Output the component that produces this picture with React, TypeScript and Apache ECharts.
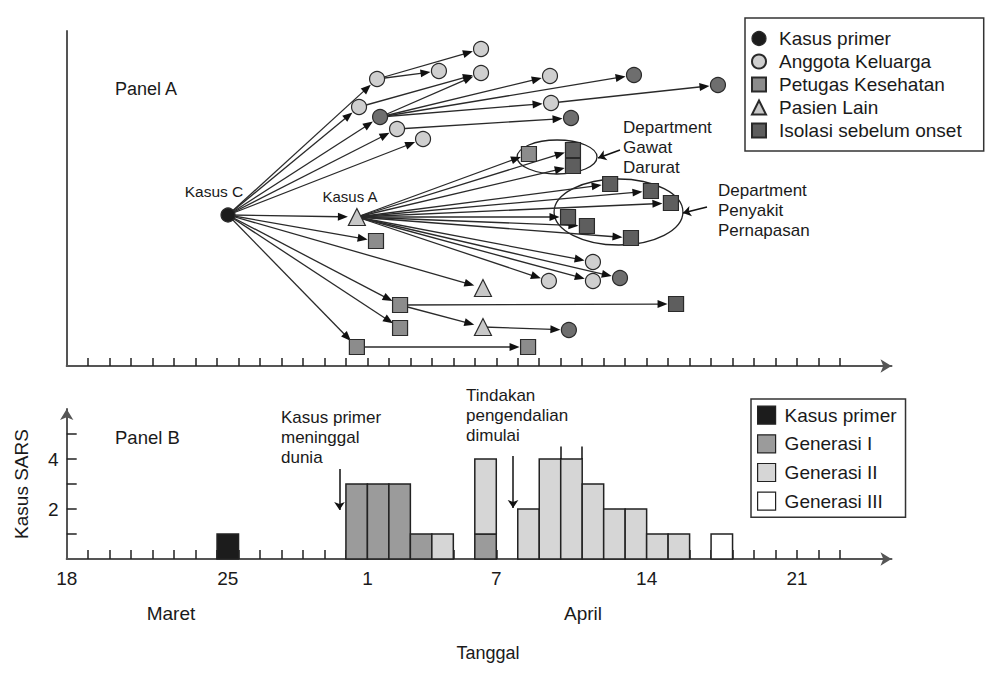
import { useEffect, useRef } from 'react';
import * as echarts from 'echarts';

// ---------- Panel A: cases [id, onset day (days after 18 March), vertical slot, group] ----------
const casesA: [string, number, number, string][] = [
  ['C', 7.51, 151, 'primer'],
  ['k1', 14.45, 287, 'keluarga'],
  ['k2', 17.33, 295, 'keluarga'],
  ['k3', 19.29, 317, 'keluarga'],
  ['k4', 19.29, 293, 'keluarga'],
  ['k5', 13.61, 259, 'keluarga'],
  ['kd6', 14.59, 249, 'keluargaIso'],
  ['k7', 15.38, 237, 'keluarga'],
  ['k8', 16.59, 227, 'keluarga'],
  ['k9', 22.5, 290, 'keluarga'],
  ['kd10', 26.41, 291, 'keluargaIso'],
  ['kd11', 30.32, 281, 'keluargaIso'],
  ['k12', 22.55, 263, 'keluarga'],
  ['kd13', 23.48, 248, 'keluargaIso'],
  ['A', 13.51, 149, 'pasien'],
  ['s1', 14.4, 125, 'petugas'],
  ['t1', 19.38, 78, 'pasien'],
  ['s2', 15.52, 61, 'petugas'],
  ['s3', 15.52, 38, 'petugas'],
  ['t2', 19.38, 39, 'pasien'],
  ['s4', 13.51, 19, 'petugas'],
  ['s5', 21.48, 19, 'petugas'],
  ['kd14', 23.38, 36, 'keluargaIso'],
  ['i1', 28.37, 62, 'isolasi'],
  ['p1', 21.52, 212, 'petugas'],
  ['e1', 23.57, 216, 'isolasi'],
  ['e2', 23.57, 200, 'isolasi'],
  ['r1', 25.3, 182, 'isolasi'],
  ['r2', 27.2, 175, 'isolasi'],
  ['r3', 28.13, 163, 'isolasi'],
  ['r4', 23.34, 149, 'isolasi'],
  ['r5', 24.22, 140, 'isolasi'],
  ['r6', 26.27, 128, 'isolasi'],
  ['k15', 24.5, 104, 'keluarga'],
  ['k16', 22.45, 85, 'keluarga'],
  ['k17', 24.5, 85, 'keluarga'],
  ['kd18', 25.76, 88, 'keluargaIso'],
];

// transmission links [source, target]
const transmissions: [string, string][] = [
  ['C', 'k1'], ['C', 'k5'], ['C', 'kd6'], ['C', 'k7'], ['C', 'k8'], ['C', 'A'],
  ['C', 's1'], ['C', 't1'], ['C', 's2'], ['C', 's3'], ['C', 's4'],
  ['k1', 'k2'], ['k1', 'k3'], ['k5', 'k4'], ['kd6', 'k4'], ['kd6', 'k9'],
  ['kd6', 'kd10'], ['kd6', 'k12'], ['k12', 'kd11'], ['k7', 'kd13'],
  ['A', 'p1'], ['A', 'e1'], ['A', 'e2'], ['A', 'r1'], ['A', 'r2'], ['A', 'r3'],
  ['A', 'r4'], ['A', 'r5'], ['A', 'r6'], ['A', 'k15'], ['A', 'k16'], ['A', 'k17'], ['A', 'kd18'],
  ['s2', 'i1'], ['s2', 't2'], ['t2', 'kd14'], ['s4', 's5'],
];

// clusters circled in Panel A [centre day, centre slot, half-width (days), half-height (slots)]
const clusterGawatDarurat = [22.83, 209, 1.86, 17];
const clusterPernapasan = [25.69, 154, 3.0, 33];

// ---------- Panel B: SARS cases by onset date ----------
const histDays = [7, 13, 14, 15, 16, 17, 19, 21, 22, 23, 24, 25, 26, 27, 28, 30]; // days after 18 March
const kasusPrimer = [1, 0, 0, 0, 0, 0, 0, 0, 0, 0, 0, 0, 0, 0, 0, 0];
const generasiI = [0, 3, 3, 3, 1, 0, 1, 0, 0, 0, 0, 0, 0, 0, 0, 0];
const generasiII = [0, 0, 0, 0, 0, 1, 3, 2, 4, 4, 3, 2, 2, 1, 1, 0];
const generasiIII = [0, 0, 0, 0, 0, 0, 0, 0, 0, 0, 0, 0, 0, 0, 0, 1];

const tickDays = [0, 7.5, 14, 20, 27, 34];
const tickLabels = ['18', '25', '1', '7', '14', '21'];
const dayTicks = Array.from({ length: 36 }, (_, k) => k + 1);

const FONT = "'Liberation Sans', Arial, sans-serif";
const INK = '#1a1a1a';

const groupStyle: Record<string, { name: string; symbol: string; size: number; color: string }> = {
  primer: { name: 'Kasus primer', symbol: 'circle', size: 14, color: '#1c1c1c' },
  keluarga: { name: 'Anggota Keluarga', symbol: 'circle', size: 15, color: '#cfcfcf' },
  keluargaIso: { name: 'Anggota Keluarga (isolasi)', symbol: 'circle', size: 15, color: '#6e6e6e' },
  petugas: { name: 'Petugas Kesehatan', symbol: 'rect', size: 15, color: '#8c8c8c' },
  pasien: { name: 'Pasien Lain', symbol: 'triangle', size: 17, color: '#c8c8c8' },
  isolasi: { name: 'Isolasi sebelum onset', symbol: 'rect', size: 15, color: '#5e5e5e' },
};

const barColors = ['#1c1c1c', '#9b9b9b', '#d6d6d6', '#ffffff'];

export default function App() {
  const ref = useRef<HTMLDivElement>(null);

  useEffect(() => {
    if (!ref.current) return;
    const chart = echarts.init(ref.current, null, { renderer: 'svg' });

    const byId: Record<string, [string, number, number, string]> = {};
    casesA.forEach((c) => (byId[c[0]] = c));
    const edgeData = transmissions.map(([s, t]) => {
      const a = byId[s];
      const b = byId[t];
      const gap = b[3] === 'pasien' ? 9 : 8.5;
      return [a[1], a[2], b[1], b[2], gap];
    });

    const nodeSeries = Object.keys(groupStyle).map((g) => {
      const st = groupStyle[g];
      return {
        type: 'scatter',
        name: st.name,
        xAxisIndex: 0,
        yAxisIndex: 0,
        symbol: st.symbol,
        symbolSize: st.size,
        z: 5,
        itemStyle: { color: st.color, borderColor: '#2a2a2a', borderWidth: 1.2, opacity: 1 },
        emphasis: { disabled: true },
        data: casesA.filter((c) => c[3] === g).map((c) => [c[1], c[2]]),
      };
    });

    // stacked histogram: each rect is [day, lower, upper]
    const layers = [kasusPrimer, generasiI, generasiII, generasiIII];
    const names = ['Kasus primer', 'Generasi I', 'Generasi II', 'Generasi III'];
    const base = histDays.map(() => 0);
    const stacked = layers.map((vals) =>
      histDays
        .map((d, k) => {
          const lo = base[k];
          base[k] += vals[k];
          return vals[k] > 0 ? [d, lo, lo + vals[k]] : null;
        })
        .filter((x) => x !== null)
    );

    const solidLine = { type: 'solid', color: '#111', width: 1.5 };

    const barSeries = layers.map((_, li) => ({
      type: 'custom',
      name: names[li],
      xAxisIndex: 1,
      yAxisIndex: 1,
      z: 3,
      encode: { x: 0, y: [1, 2] },
      itemStyle: { color: barColors[li], borderColor: '#222', borderWidth: 1.5 },
      emphasis: { disabled: true },
      data: stacked[li],
      renderItem: (_p: any, api: any) => {
        const p0 = api.coord([api.value(0), api.value(1)]);
        const p1 = api.coord([api.value(0) + 1, api.value(2)]);
        return {
          type: 'rect',
          shape: { x: p0[0], y: p1[1], width: p1[0] - p0[0], height: p0[1] - p1[1] },
          style: { fill: barColors[li], stroke: '#222', lineWidth: 1.5 },
        };
      },
      markLine:
        li === 0
          ? {
              silent: true, animation: false, label: { show: false },
              symbol: ['none', 'arrow'], symbolSize: 8, lineStyle: solidLine,
              data: [
                [{ coord: [12.7, 3.6] }, { coord: [12.7, 1.96] }],
                [{ coord: [20.78, 4.12] }, { coord: [20.78, 2.04] }],
              ],
            }
          : li === 2
          ? {
              silent: true, animation: false, label: { show: false },
              symbol: ['none', 'none'], lineStyle: solidLine,
              data: [
                [{ coord: [23, 4] }, { coord: [23, 4.5] }],
                [{ coord: [24, 4] }, { coord: [24, 4.5] }],
              ],
            }
          : undefined,
    }));

    const option: any = {
      animation: false,
      backgroundColor: '#ffffff',
      textStyle: { fontFamily: FONT, color: INK },
      grid: [
        { left: 66.7, top: 31, width: 824.8, height: 335 },
        { left: 66.7, top: 409, width: 824.8, height: 150 },
      ],
      xAxis: [
        {
          type: 'value', gridIndex: 0, min: 0, max: 38.4,
          axisLine: { show: true, symbol: ['none', 'arrow'], symbolSize: [10, 11], lineStyle: { color: '#555', width: 2 } },
          axisTick: { show: true, inside: true, length: 8, customValues: dayTicks, lineStyle: { color: '#222', width: 1.5 } },
          axisLabel: { show: false },
          splitLine: { show: false },
        },
        {
          type: 'value', gridIndex: 1, min: 0, max: 38.4,
          axisLine: { show: true, symbol: ['none', 'arrow'], symbolSize: [10, 11], lineStyle: { color: '#555', width: 2 } },
          axisTick: { show: true, inside: true, length: 9, customValues: dayTicks, lineStyle: { color: '#222', width: 1.5 } },
          axisLabel: {
            show: true, customValues: tickDays, fontSize: 19, color: INK, margin: 10, fontFamily: FONT,
            formatter: (v: number) => tickLabels[tickDays.indexOf(v)] ?? '',
          },
          splitLine: { show: false },
        },
      ],
      yAxis: [
        {
          type: 'value', gridIndex: 0, min: 0, max: 335,
          axisLine: { show: true, lineStyle: { color: '#555', width: 2 } },
          axisTick: { show: false }, axisLabel: { show: false }, splitLine: { show: false },
        },
        {
          type: 'value', gridIndex: 1, min: 0, max: 6, interval: 1,
          name: 'Kasus SARS', nameLocation: 'middle', nameRotate: 90, nameGap: 36,
          nameTextStyle: { fontSize: 19, color: INK, fontFamily: FONT },
          axisLine: { show: true, symbol: ['none', 'arrow'], symbolSize: [10, 11], lineStyle: { color: '#555', width: 2 } },
          axisTick: { show: true, inside: true, length: 10, customValues: [1, 2, 3, 4, 5], lineStyle: { color: '#222', width: 1.5 } },
          axisLabel: { show: true, customValues: [2, 4], fontSize: 19, color: INK, margin: 8, fontFamily: FONT },
          splitLine: { show: false },
        },
      ],
      legend: [
        {
          orient: 'vertical', left: 745, top: 18,
          padding: [11, 22, 11, 6], itemGap: 4, itemWidth: 14, itemHeight: 14,
          borderColor: '#333', borderWidth: 1.5, backgroundColor: '#fff',
          selectedMode: false,
          textStyle: { fontSize: 19, lineHeight: 18, color: INK, fontFamily: FONT, padding: [0, 0, 0, 8] },
          data: [
            { name: 'Kasus primer', icon: 'circle', itemStyle: { color: '#1c1c1c', borderColor: '#2a2a2a', borderWidth: 1.2 } },
            { name: 'Anggota Keluarga', icon: 'circle' },
            { name: 'Petugas Kesehatan', icon: 'rect' },
            { name: 'Pasien Lain', icon: 'triangle' },
            { name: 'Isolasi sebelum onset', icon: 'rect' },
          ],
        },
        {
          orient: 'vertical', left: 751, top: 399,
          padding: [6.5, 9, 6.5, 6], itemGap: 9.5, itemWidth: 18, itemHeight: 18,
          borderColor: '#333', borderWidth: 1.5, backgroundColor: '#fff',
          selectedMode: false,
          textStyle: { fontSize: 19, lineHeight: 19, color: INK, fontFamily: FONT, padding: [0, 0, 0, 4] },
          data: names.map((n, i) => ({
            name: n,
            icon: 'rect',
            itemStyle: { color: barColors[i], borderColor: '#222', borderWidth: 1.2 },
          })),
        },
      ],
      series: [
        {
          type: 'custom',
          name: 'klaster',
          xAxisIndex: 0, yAxisIndex: 0,
          z: 2, silent: true, clip: false,
          encode: { x: 0, y: 1 },
          data: [clusterGawatDarurat, clusterPernapasan],
          renderItem: (_p: any, api: any) => {
            const c = api.coord([api.value(0), api.value(1)]);
            const s = api.size([api.value(2), api.value(3)]);
            return {
              type: 'ellipse',
              shape: { cx: c[0], cy: c[1], rx: s[0], ry: s[1] },
              style: { fill: 'none', stroke: '#222', lineWidth: 1.3 },
            };
          },
          markLine: {
            silent: true, animation: false, label: { show: false },
            symbol: ['none', 'arrow'], symbolSize: 8,
            lineStyle: solidLine,
            data: [
              [{ coord: [25.76, 216] }, { coord: [24.74, 208] }],
              [{ coord: [29.81, 159] }, { coord: [28.69, 153] }],
            ],
          },
        },
        {
          type: 'custom',
          name: 'transmisi',
          xAxisIndex: 0, yAxisIndex: 0,
          z: 3, silent: true, clip: false,
          encode: { x: [0, 2], y: [1, 3] },
          data: edgeData,
          renderItem: (_p: any, api: any) => {
            const p1 = api.coord([api.value(0), api.value(1)]);
            const p2 = api.coord([api.value(2), api.value(3)]);
            const gap = api.value(4);
            const dx = p2[0] - p1[0];
            const dy = p2[1] - p1[1];
            const len = Math.hypot(dx, dy) || 1;
            const ux = dx / len;
            const uy = dy / len;
            const tip = [p2[0] - ux * gap, p2[1] - uy * gap];
            const hl = 10;
            const hw = 4;
            const b = [tip[0] - ux * hl, tip[1] - uy * hl];
            const l = [b[0] - uy * hw, b[1] + ux * hw];
            const r = [b[0] + uy * hw, b[1] - ux * hw];
            return {
              type: 'group',
              children: [
                { type: 'line', shape: { x1: p1[0], y1: p1[1], x2: b[0] + ux * 2, y2: b[1] + uy * 2 }, style: { stroke: '#2a2a2a', lineWidth: 1.3 } },
                { type: 'polygon', shape: { points: [tip, l, r] }, style: { fill: '#111' } },
              ],
            };
          },
        },
        ...nodeSeries,
        ...barSeries,
      ],
      graphic: [
        { type: 'text', x: 115, y: 89, style: { text: 'Panel A', fontSize: 18, fontFamily: FONT, fill: INK, verticalAlign: 'middle' } },
        { type: 'text', x: 214, y: 191, style: { text: 'Kasus C', fontSize: 15.5, fontFamily: FONT, fill: INK, align: 'center', verticalAlign: 'middle' } },
        { type: 'text', x: 350, y: 196, style: { text: 'Kasus A', fontSize: 15, fontFamily: FONT, fill: INK, align: 'center', verticalAlign: 'middle' } },
        { type: 'text', x: 623, y: 117, style: { text: 'Department\nGawat\nDarurat', fontSize: 17, lineHeight: 20, fontFamily: FONT, fill: INK } },
        { type: 'text', x: 718, y: 180, style: { text: 'Department\nPenyakit\nPernapasan', fontSize: 17, lineHeight: 20, fontFamily: FONT, fill: INK } },
        { type: 'text', x: 115, y: 437, style: { text: 'Panel B', fontSize: 18.5, fontFamily: FONT, fill: INK, verticalAlign: 'middle' } },
        { type: 'text', x: 281, y: 407, style: { text: 'Kasus primer\nmeninggal\ndunia', fontSize: 17, lineHeight: 20, fontFamily: FONT, fill: INK } },
        { type: 'text', x: 466, y: 385, style: { text: 'Tindakan\npengendalian\ndimulai', fontSize: 17, lineHeight: 20, fontFamily: FONT, fill: INK } },
        { type: 'text', x: 171, y: 613, style: { text: 'Maret', fontSize: 19, fontFamily: FONT, fill: INK, align: 'center', verticalAlign: 'middle' } },
        { type: 'text', x: 583, y: 613, style: { text: 'April', fontSize: 19, fontFamily: FONT, fill: INK, align: 'center', verticalAlign: 'middle' } },
        { type: 'text', x: 488, y: 653, style: { text: 'Tanggal', fontSize: 18, fontFamily: FONT, fill: INK, align: 'center', verticalAlign: 'middle' } },
      ],
    };

    chart.setOption(option);
    return () => chart.dispose();
  }, []);

  return (
    <div
      ref={ref}
      style={{ position: 'fixed', left: 0, top: 0, width: 1000, height: 675, background: '#fff' }}
    />
  );
}
